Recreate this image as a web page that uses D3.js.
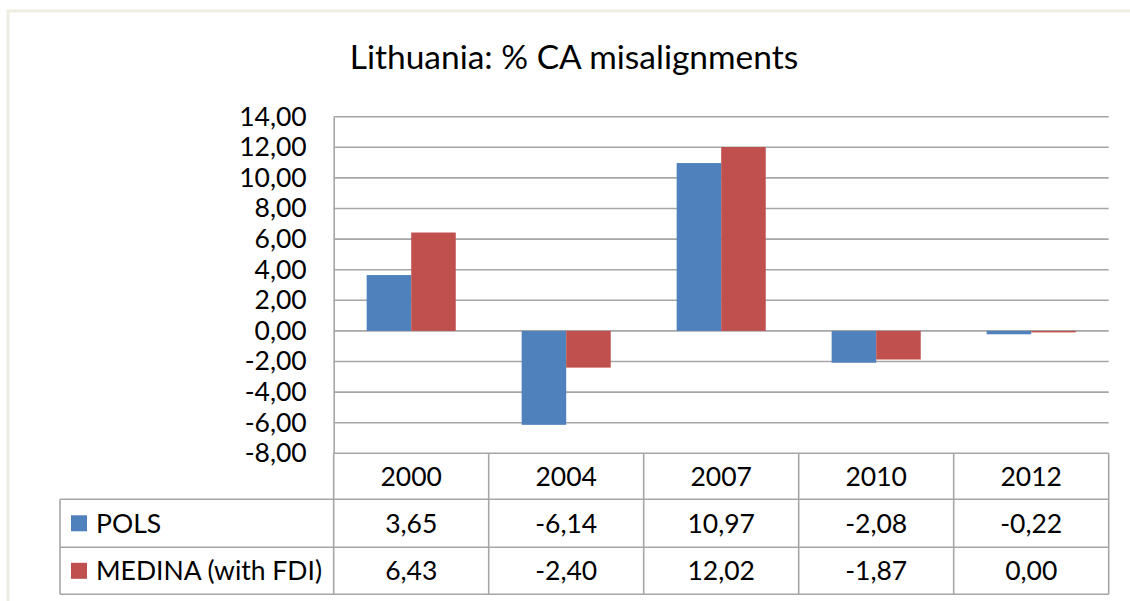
<!DOCTYPE html>
<html>
<head>
<meta charset="utf-8">
<script src="https://cdn.jsdelivr.net/npm/d3@7"></script>
<style>
  body { margin: 0; background: #fff; }
  text { font-family: Lato, "Open Sans", sans-serif; fill: #000; }
</style>
</head>
<body>
<script>
var years = ["2000", "2004", "2007", "2010", "2012"];
var seriesNames = ["POLS", "MEDINA (with FDI)"];
var pols = [3.65, -6.14, 10.97, -2.08, -0.22];
var medina = [6.43, -2.40, 12.02, -1.87, 0.00];
var yTicks = [14, 12, 10, 8, 6, 4, 2, 0, -2, -4, -6, -8];
var colors = ["#4f81bd", "#c0504d"];
var title = "Lithuania: % CA misalignments";

var W = 1130, H = 601;
var plot = {left: 333.7, right: 1108.7, top: 116.7, bottom: 453.3};
var rowH = [46, 48, 47]; // header, pols, medina
var tableLeft = 60;
var gridColor = "#a6a6a6";
var fmt = function(v) { return v.toFixed(2).replace(".", ","); };

var svg = d3.select("body").append("svg")
    .attr("width", W)
    .attr("height", H);

// outer chart frame
svg.append("rect")
    .attr("x", 8).attr("y", 11)
    .attr("width", W + 20).attr("height", H + 20)
    .attr("fill", "none")
    .attr("stroke", "#eeece1")
    .attr("stroke-width", 3);

svg.append("text")
    .attr("x", 574)
    .attr("y", 69)
    .attr("text-anchor", "middle")
    .style("font-size", "33.5px")
    .text(title);

var x = d3.scaleBand()
    .domain(years)
    .range([plot.left, plot.right]);

var xInner = d3.scaleBand()
    .domain(seriesNames)
    .range([0, x.bandwidth()])
    .paddingInner(0)
    .paddingOuter(0.74);

var y = d3.scaleLinear()
    .domain([-8, 14])
    .range([plot.bottom, plot.top]);

// gridlines
svg.append("g")
  .selectAll("line")
  .data(yTicks)
  .enter()
  .append("line")
    .attr("x1", plot.left).attr("x2", plot.right)
    .attr("y1", function(d) { return y(d); })
    .attr("y2", function(d) { return y(d); })
    .attr("stroke", gridColor)
    .attr("stroke-width", 1.6);

// y axis labels
var yAxis = d3.axisLeft(y)
    .tickValues(yTicks)
    .tickFormat(fmt)
    .tickSize(0)
    .tickPadding(27);

var gy = svg.append("g")
    .attr("transform", "translate(" + plot.left + ",0)")
    .call(yAxis);
gy.select(".domain").attr("stroke", gridColor).attr("stroke-width", 1.6);
gy.selectAll("text")
    .style("font-family", "Lato, 'Open Sans', sans-serif")
    .style("font-size", "26.5px")
    .attr("fill", "#000");

// bars
var series = [pols, medina];
series.forEach(function(vals, s) {
  svg.append("g")
    .selectAll("rect")
    .data(vals)
    .enter()
    .append("rect")
      .attr("x", function(d, i) { return x(years[i]) + xInner(seriesNames[s]); })
      .attr("width", xInner.bandwidth())
      .attr("y", function(d) { return Math.min(y(d), y(0)); })
      .attr("height", function(d) { return Math.max(Math.abs(y(d) - y(0)), 1.5); })
      .attr("fill", colors[s]);
});

// data table
var t0 = plot.bottom;
var t1 = t0 + rowH[0], t2 = t1 + rowH[1], t3 = t2 + rowH[2];
var tg = svg.append("g")
    .attr("stroke", gridColor)
    .attr("stroke-width", 1.6);

[t1, t2, t3].forEach(function(yy) {
  tg.append("line")
    .attr("x1", tableLeft).attr("x2", plot.right)
    .attr("y1", yy).attr("y2", yy);
});
tg.append("line")
    .attr("x1", tableLeft).attr("x2", tableLeft)
    .attr("y1", t1).attr("y2", t3);
years.forEach(function(yr) {
  tg.append("line")
    .attr("x1", x(yr)).attr("x2", x(yr))
    .attr("y1", t0).attr("y2", t3);
});
tg.append("line")
    .attr("x1", plot.right).attr("x2", plot.right)
    .attr("y1", t0).attr("y2", t3);

var cellFont = "26.5px";
svg.append("g")
  .selectAll("text")
  .data(years)
  .enter()
  .append("text")
    .attr("x", function(d) { return x(d) + x.bandwidth() / 2; })
    .attr("y", (t0 + t1) / 2)
    .attr("dy", "0.35em")
    .attr("text-anchor", "middle")
    .style("font-size", cellFont)
    .text(function(d) { return d; });

var rowMid = [(t1 + t2) / 2, (t2 + t3) / 2];
series.forEach(function(vals, s) {
  svg.append("g")
    .selectAll("text")
    .data(vals)
    .enter()
    .append("text")
      .attr("x", function(d, i) { return x(years[i]) + x.bandwidth() / 2; })
      .attr("y", rowMid[s])
      .attr("dy", "0.35em")
      .attr("text-anchor", "middle")
      .style("font-size", cellFont)
      .text(function(d) { return fmt(d); });

  svg.append("rect")
    .attr("x", 71)
    .attr("y", rowMid[s] - 8)
    .attr("width", 16).attr("height", 16)
    .attr("fill", colors[s]);

  svg.append("text")
    .attr("x", 96)
    .attr("y", rowMid[s])
    .attr("dy", "0.35em")
    .style("font-size", cellFont)
    .text(seriesNames[s]);
});
</script>
</body>
</html>
